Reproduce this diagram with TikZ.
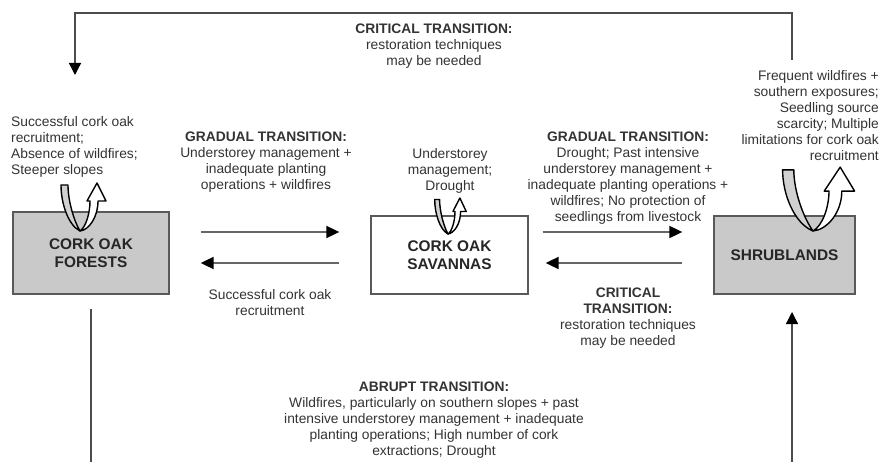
\documentclass[tikz,border=0pt]{standalone}
\usepackage{fontspec}
\setmainfont{Liberation Sans}
\usetikzlibrary{arrows.meta,positioning,calc}
\tikzset{
  state/.style = {draw=black!65, line width=1.3pt, align=center, inner sep=0pt,
    font=\fontsize{15.4}{18}\selectfont\bfseries, text=black!85},
  state_g/.style = {state, fill=black!21},% grey state box
  state_w/.style = {state, fill=white},% white state box
  lbl/.style = {align=center, inner sep=0pt,
    font=\fontsize{13.8}{16}\selectfont, text=black!80},
  flow/.style = {draw=black!60, line width=1.8pt,
    -{Triangle[length=13pt,width=12pt,color=black]}},
  trans/.style = {draw=black!70, line width=1.3pt,
    -{Triangle[length=12pt,width=12pt,color=black]}},
  band_g/.style = {draw=black, line width=1.4pt, fill=black!18, line join=round},
  band_w/.style = {draw=black, line width=1.4pt, fill=white, line join=round},
  uturn/.pic = {
    \path[band_w] (0,0) .. controls (6,-4) and (10,-18) .. (10,-30) -- (7,-30)
      -- (17,-48) -- (26,-30) -- (18,-30) .. controls (18,-14) and (9,-1) .. cycle;
    \path[band_g] (0,0) .. controls (-12,-6) and (-19,-28) .. (-19,-46)
      -- (-12,-46) .. controls (-12,-30) and (-6,-10) .. cycle;
  }
}

\begin{document}
\begin{tikzpicture}[x=1pt,y=-1pt]
\path[use as bounding box,clip] (0,0) rectangle (891,462);

% states
\node [state_g, minimum width=156pt, minimum height=82pt] (forest) at (91,253) {CORK OAK\\FORESTS};
\node [state_w, minimum width=157pt, minimum height=78pt] (savanna) at (449.5,255) {CORK OAK\\SAVANNAS};
\node [state_g, minimum width=141pt, minimum height=78pt] (shrub) at (784.5,255) {SHRUBLANDS};

% self transitions
\pic at (80,231) {uturn};
\pic [xscale=0.7,yscale=0.75] at (448,234) {uturn};
\pic [xscale=1.6,yscale=1.33] at (813,231) {uturn};

% gradual transitions
\draw[flow] ($(forest.east)+(31,-21)$) -- ($(forest.east -| savanna.west)+(-31,-21)$);
\draw[flow] ($(forest.east -| savanna.west)+(-31,10)$) -- ($(forest.east)+(31,10)$);
\draw[flow] ($(savanna.east)+(14,-23)$) -- ($(shrub.west)+(-31,-23)$);
\draw[flow] ($(shrub.west)+(-31,8)$) -- ($(savanna.east)+(17,8)$);

% critical and abrupt transitions
\coordinate (shrubtop) at (792,60);
\coordinate (foresttop) at (75,75);
\coordinate (forestbot) at (91,309);
\coordinate (shrubbot) at (792,312);
\draw[trans] (shrubtop) -- (shrubtop |- 0,13) -| (foresttop);
\draw[trans] (forestbot) -- (forestbot |- 0,480) -| (shrubbot);

% labels
\node [lbl] (crittop) at (434,46) {\textbf{CRITICAL TRANSITION:}\\restoration techniques\\may be needed};
\node [lbl, align=left, anchor=west] (forestcond) at (11,147) {Successful cork oak\\recruitment;\\Absence of wildfires;\\Steeper slopes};
\node [lbl] (gradleft) at (266,162.5) {\textbf{GRADUAL TRANSITION:}\\Understorey management +\\inadequate planting\\operations + wildfires};
\node [lbl] (savcond) at (450,170.5) {Understorey\\management;\\Drought};
\node [lbl] (gradright) at (628,178.5) {\textbf{GRADUAL TRANSITION:}\\Drought; Past intensive\\understorey management +\\inadequate planting operations +\\wildfires; No protection of\\seedlings from livestock};
\node [lbl, align=right, anchor=east] (shrubcond) at (879,116) {Frequent wildfires +\\southern exposures;\\Seedling source\\scarcity; Multiple\\limitations for cork oak\\recruitment};
\node [lbl] (recruit) at (270,303) {Successful cork oak\\recruitment};
\node [lbl] (critright) at (628,318.5) {\textbf{CRITICAL}\\\textbf{TRANSITION:}\\restoration techniques\\may be needed};
\node [lbl] (abrupt) at (434,420) {\textbf{ABRUPT TRANSITION:}\\Wildfires, particularly on southern slopes + past\\intensive understorey management + inadequate\\planting operations; High number of cork\\extractions; Drought};
\end{tikzpicture}
\end{document}
